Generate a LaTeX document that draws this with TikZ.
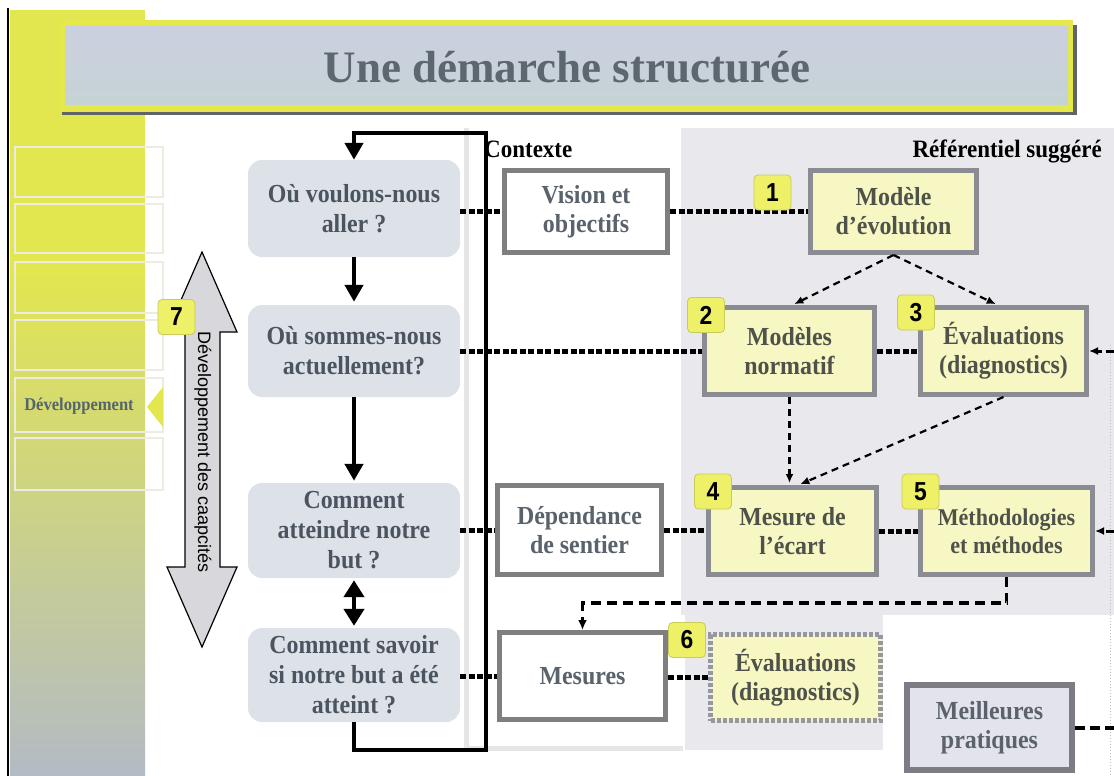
\documentclass[tikz,border=0pt]{standalone}
\usepackage{fontspec}
\setmainfont{Liberation Serif}
\newfontfamily\sansf{Liberation Sans}
\newfontfamily\condserif[FakeStretch=0.92]{Liberation Serif}
\newfontfamily\condsans[FakeStretch=0.88]{Liberation Sans}
\usetikzlibrary{arrows.meta,shapes.geometric}

\definecolor{flowfill}{HTML}{DDE1E8}
\definecolor{flowtext}{HTML}{4B5560}
\definecolor{ctxborder}{HTML}{7F7F7F}
\definecolor{ctxtext}{HTML}{5A626C}
\definecolor{refborder}{HTML}{8B8C93}
\definecolor{reffill}{HTML}{F7F7C3}
\definecolor{reftext}{HTML}{4F524A}
\definecolor{bestfill}{HTML}{E3E3EB}
\definecolor{bestborder}{HTML}{7C7C84}
\definecolor{badgeyellow}{HTML}{EEF068}
\definecolor{badgeedge}{HTML}{C9CB5A}
\definecolor{refgrey}{HTML}{E9E9ED}
\definecolor{sideyellow}{HTML}{E2E64F}
\definecolor{sideolive}{HTML}{C8CB98}
\definecolor{sidegrey}{HTML}{B3BBC5}
\definecolor{titleyellow}{HTML}{E4E84A}
\definecolor{titleshadow}{HTML}{5F6566}
\definecolor{titletext}{HTML}{5C6770}
\definecolor{titletop}{HTML}{CBD0E0}
\definecolor{titlebot}{HTML}{C6D3D4}
\definecolor{arrowgrey}{HTML}{D8D8DC}
\definecolor{rowline}{HTML}{ECECE2}
\definecolor{paneledge}{HTML}{E6E6E8}
\definecolor{devtext}{HTML}{55656E}

\tikzset{
  flowbox/.style={rounded corners=14pt, fill=flowfill, text=flowtext,
    font=\condserif\bfseries\fontsize{26}{30}\selectfont, align=center, inner sep=0pt},
  ctxbox/.style={draw=ctxborder, line width=5pt, fill=white, text=ctxtext,
    font=\condserif\bfseries\fontsize{26}{29}\selectfont, align=center, inner sep=0pt},
  refbox/.style={draw=refborder, line width=5pt, fill=reffill, text=reftext,
    font=\condserif\bfseries\fontsize{26}{29}\selectfont, align=center, inner sep=0pt},
  badge/.style={fill=badgeyellow, draw=badgeedge, line width=0.8pt,
    rounded corners=4pt, minimum width=37pt, minimum height=35pt, inner sep=0pt,
    font=\condsans\bfseries\fontsize{26}{26}\selectfont},
  dotline/.style={line width=5pt, dash pattern=on 6pt off 2.5pt},
  thindash/.style={line width=2.2pt, dash pattern=on 7pt off 5pt,
    -{Latex[length=9pt,width=8pt]}},
  middash/.style={line width=3.5pt, dash pattern=on 10pt off 6pt,
    -{Latex[length=10pt,width=9pt]}},
  flowarrow/.style={line width=4.5pt, -{Triangle[length=17pt,width=18pt]}},
  cyclebar/.style={line width=4.5pt, line join=miter, -{Triangle[length=17pt,width=18pt]}},
  rowbox/.style={draw=rowline, line width=1.2pt},
  label/.style={font=\condserif\bfseries\fontsize{25}{25}\selectfont, text=black, inner sep=0pt}
}

\begin{document}
\begin{tikzpicture}[x=1pt,y=-1pt]
\useasboundingbox (0,0) rectangle (1114,776);
\fill[white] (0,0) rectangle (1114,776);

% left sidebar
\fill[sideyellow] (10,10) rectangle (145,272);
\shade[top color=sideyellow, middle color=sideolive, bottom color=sidegrey] (10,270) rectangle (145,776);
\draw[line width=2pt] (8,8) -- (8,776);
\draw[rowbox] (15,147) rectangle (163,197);
\draw[rowbox] (15,204) rectangle (163,253);
\draw[rowbox] (15,262) rectangle (163,313);
\draw[rowbox] (15,320) rectangle (163,370);
\draw[rowbox] (15,378) rectangle (163,432);
\draw[rowbox] (15,438) rectangle (163,490);
\fill[sideyellow] (147,407) -- (163,387) -- (163,427) -- cycle;
\node[font=\condserif\bfseries\fontsize{18}{18}\selectfont, text=devtext] (devlab) at (79,406) {Développement};

% title bar
\fill[titleshadow] (62,25) rectangle (1077,115);
\fill[titleyellow] (59,20) rectangle (1073,112);
\shade[top color=titletop, bottom color=titlebot] (65,27) rectangle (1068,104);
\node[font=\bfseries\fontsize{45}{45}\selectfont, text=titletext, anchor=base] (title) at (567,82) {Une démarche structurée};

% panels
\fill[white] (466,128) rectangle (683,748);
\draw[paneledge, line width=5pt] (466,128) -- (466,748) -- (683,748);
\fill[refgrey] (681,128) rectangle (1114,615);
\fill[refgrey] (685,613) rectangle (883,750);
\draw[draw=black!25, line width=1pt, dash pattern=on 1pt off 2pt] (1110,345) -- (1110,776);

\node[label, anchor=base west] (ctxlab) at (484,157) {Contexte};
\node[label, anchor=base east] (reflab) at (1102,157) {Référentiel suggéré};

% flow boxes
\node[flowbox, minimum width=212pt, minimum height=97pt] (A) at (354,208.5) {Où voulons-nous\\aller ?};
\node[flowbox, minimum width=212pt, minimum height=92pt] (B) at (354,351) {Où sommes-nous\\actuellement?};
\node[flowbox, minimum width=212pt, minimum height=95pt] (C) at (354,530.5) {Comment\\atteindre notre\\but ?};
\node[flowbox, minimum width=212pt, minimum height=94pt] (D) at (354,675) {Comment savoir\\si notre but a été\\atteint ?};

% feedback loop
\coordinate (lb1) at (354,750);
\coordinate (lb2) at (486,750);
\coordinate (lt2) at (486,133);
\coordinate (lt1) at (354,133);
\draw[cyclebar] (D.south) -- (lb1) -- (lb2) -- (lt2) -- (lt1) -- (A.north);
\draw[flowarrow, shorten >=3pt] (A.south) -- (B.north);
\draw[flowarrow, shorten >=2pt] (B.south) -- (C.north);
\draw[line width=4.5pt, {Triangle[length=17pt,width=20pt]}-{Triangle[length=17pt,width=20pt]}, shorten <=2pt, shorten >=2pt] (C.south) -- (D.north);

% big grey double arrow
\draw[fill=arrowgrey, line width=1.2pt, line join=miter] (202,252) -- (237,332) -- (220,332) -- (220,567) -- (237,567) -- (202,647) -- (167,567) -- (185,567) -- (185,332) -- (167,332) -- cycle;
\node[rotate=-90, font=\sansf\fontsize{18}{18}\selectfont] (devtxt) at (203,452) {Développement des caapcités};

% context boxes
\node[ctxbox, minimum width=163pt, minimum height=82pt] (vis) at (586,211.5) {Vision et\\objectifs};
\node[ctxbox, minimum width=164pt, minimum height=89pt] (dep) at (579.5,530) {Dépendance\\de sentier};
\node[ctxbox, minimum width=166pt, minimum height=87pt] (mes) at (582.5,676) {Mesures};

% referential boxes
\node[refbox, minimum width=166pt, minimum height=82pt] (mod) at (893.5,211.5) {Modèle\\d’évolution};
\node[refbox, minimum width=170pt, minimum height=87pt] (norm) at (789.5,351) {Modèles\\normatif};
\node[refbox, minimum width=166pt, minimum height=87pt] (ev3) at (1003.5,351) {Évaluations\\(diagnostics)};
\node[refbox, minimum width=168pt, minimum height=87pt] (ecart) at (792.5,531) {Mesure de\\l’écart};
\node[refbox, minimum width=172pt, minimum height=87pt, font=\condserif\bfseries\fontsize{24}{28}\selectfont] (meth) at (1006.5,531) {Méthodologies\\et méthodes};
\node[refbox, draw=refborder!90, dash pattern=on 4pt off 2pt, minimum width=170pt, minimum height=86pt] (ev6) at (795.5,677.5) {Évaluations\\(diagnostics)};
\node[refbox, draw=bestborder, fill=bestfill, text=ctxtext, line width=6pt, minimum width=165pt, minimum height=85pt] (best) at (989.5,727.5) {Meilleures\\pratiques};

% dotted connectors
\draw[dotline] (A.east |- vis.west) -- (vis.west);
\draw[dotline] (vis.east) -- (mod.west);
\draw[dotline] (B.east) -- (norm.west);
\draw[dotline] (norm.east) -- (ev3.west);
\draw[dotline] (C.east |- dep.west) -- (dep.west);
\draw[dotline] (dep.east) -- (dep.east -| ecart.west);
\draw[dotline] (ecart.east) -- (meth.west);
\draw[dotline] (D.east |- mes.west) -- (mes.west);
\draw[dotline] (mes.east |- ev6.west) -- (ev6.west);

% dashed arrows in the referential
\draw[thindash, shorten >=2pt] (mod.south) -- ([xshift=3pt]norm.north);
\draw[thindash, shorten >=2pt] (mod.south) -- ([xshift=-6pt]ev3.north);
\draw[thindash, shorten >=2pt] (norm.south) -- (norm.south |- ecart.north);
\draw[thindash, shorten >=2pt] (ev3.south) -- ([xshift=6pt]ecart.north);
\coordinate (turn) at (1006.5,603);
\draw[middash] (meth.south) -- (turn) -| (mes.north);

% right edge connectors
\coordinate (r1) at (1114,351);
\coordinate (r2) at (1114,531);
\coordinate (r3) at (1114,727.5);
\draw[line width=3pt, dash pattern=on 8pt off 4pt, -{Latex[length=9pt,width=8pt]}] (r1) -- (ev3.east);
\draw[line width=3pt, dash pattern=on 8pt off 4pt, -{Latex[length=9pt,width=8pt]}] (r2) -- (meth.east);
\draw[line width=4pt, dash pattern=on 10pt off 5pt] (best.east) -- (r3);

% badges
\node[badge] (b1) at (772.5,192.5) {1};
\node[badge] (b2) at (706,315) {2};
\node[badge] (b3) at (916,312.5) {3};
\node[badge] (b4) at (713,491.5) {4};
\node[badge] (b5) at (920.5,491.5) {5};
\node[badge] (b6) at (687,640) {6};
\node[badge] (b7) at (176.5,317) {7};
\end{tikzpicture}
\end{document}
